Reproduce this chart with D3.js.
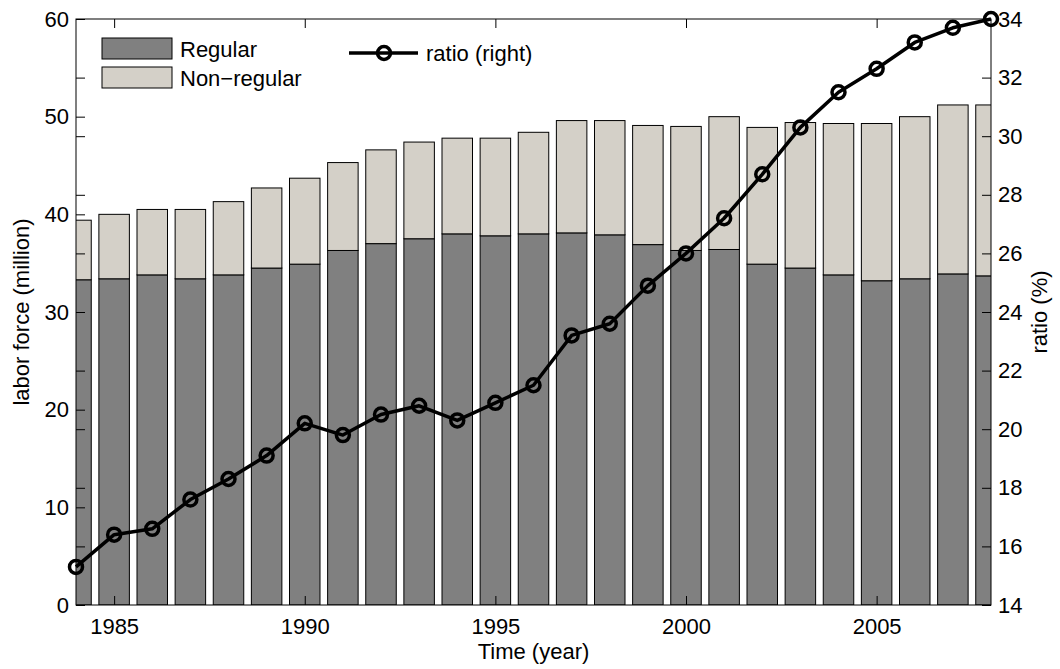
<!DOCTYPE html>
<html>
<head>
<meta charset="utf-8">
<script src="https://cdn.jsdelivr.net/npm/d3@7"></script>
<style>
  body { margin: 0; background: #fff; }
  svg { font-family: "Liberation Sans", Arial, Helvetica, sans-serif; }
</style>
</head>
<body>
<div id="chart"></div>
<script>
/* DATA */
const years = [1984, 1985, 1986, 1987, 1988, 1989, 1990, 1991, 1992, 1993, 1994, 1995,
  1996, 1997, 1998, 1999, 2000, 2001, 2002, 2003, 2004, 2005, 2006, 2007, 2008];
// labor force, million
const regular = [33.3, 33.4, 33.8, 33.4, 33.8, 34.5, 34.9, 36.3, 37.0, 37.5, 38.0, 37.8,
  38.0, 38.1, 37.9, 36.9, 36.3, 36.4, 34.9, 34.5, 33.8, 33.2, 33.4, 33.9, 33.7];
const nonRegular = [6.1, 6.6, 6.7, 7.1, 7.5, 8.2, 8.8, 9.0, 9.6, 9.9, 9.8, 10.0,
  10.4, 11.5, 11.7, 12.2, 12.7, 13.6, 14.0, 14.9, 15.5, 16.1, 16.6, 17.3, 17.5];
// non-regular ratio, %
const ratio = [15.3, 16.4, 16.6, 17.6, 18.3, 19.1, 20.2, 19.8, 20.5, 20.8, 20.3, 20.9,
  21.5, 23.2, 23.6, 24.9, 26.0, 27.2, 28.7, 30.3, 31.5, 32.3, 33.2, 33.7, 34.0];
const xTicks = [1985, 1990, 1995, 2000, 2005];
const leftTicks = [0, 10, 20, 30, 40, 50, 60];
const rightTicks = [14, 16, 18, 20, 22, 24, 26, 28, 30, 32, 34];

/* CONSTANTS */
const width = 1060,
  height = 669,
  margin = { top: 19, right: 69, bottom: 64, left: 76 },
  fontSize = 22,
  darkGray = "#808080",
  lightGray = "#d4d0c8";

const rows = years.map((y, i) => ({ year: y, regular: regular[i], nonRegular: nonRegular[i], ratio: ratio[i] }));

/* SCALES */
const xScale = d3.scaleLinear()
  .domain([1984, 2008])
  .range([margin.left, width - margin.right]);

const yLeft = d3.scaleLinear()
  .domain([0, 60])
  .range([height - margin.bottom, margin.top]);

const yRight = d3.scaleLinear()
  .domain([14, 34])
  .range([height - margin.bottom, margin.top]);

const barWidth = 0.8 * (xScale(1) - xScale(0));

const svg = d3.select("#chart")
  .append("svg")
  .attr("width", width)
  .attr("height", height);

svg.append("clipPath")
  .attr("id", "plot-clip")
  .append("rect")
  .attr("x", margin.left)
  .attr("y", margin.top)
  .attr("width", width - margin.left - margin.right)
  .attr("height", height - margin.top - margin.bottom);

/* BARS */
const stacked = d3.stack().keys(["regular", "nonRegular"])(rows);
const colors = { regular: darkGray, nonRegular: lightGray };

svg.append("g")
  .attr("clip-path", "url(#plot-clip)")
  .selectAll("g.layer")
  .data(stacked)
  .join("g")
  .attr("class", "layer")
  .attr("fill", d => colors[d.key])
  .selectAll("rect")
  .data(d => d)
  .join("rect")
  .attr("x", d => xScale(d.data.year) - barWidth / 2)
  .attr("width", barWidth)
  .attr("y", d => yLeft(d[1]))
  .attr("height", d => yLeft(d[0]) - yLeft(d[1]))
  .attr("stroke", "#000")
  .attr("stroke-width", 1);

/* RATIO LINE */
const lineFunc = d3.line()
  .x(d => xScale(d.year))
  .y(d => yRight(d.ratio));

svg.append("path")
  .datum(rows)
  .attr("fill", "none")
  .attr("stroke", "#000")
  .attr("stroke-width", 3.5)
  .attr("stroke-linejoin", "round")
  .attr("d", lineFunc);

svg.selectAll("circle.dot")
  .data(rows)
  .join("circle")
  .attr("class", "dot")
  .attr("cx", d => xScale(d.year))
  .attr("cy", d => yRight(d.ratio))
  .attr("r", 6.5)
  .attr("fill", "none")
  .attr("stroke", "#000")
  .attr("stroke-width", 3.5);

/* AXES */
function styleAxis(g) {
  g.select(".domain").remove();
  g.attr("font-size", fontSize)
    .attr("font-family", null)
    .attr("color", "#000");
}

svg.append("g")
  .attr("transform", `translate(${margin.left},0)`)
  .call(d3.axisLeft(yLeft).tickValues(leftTicks).tickSizeInner(-9).tickSizeOuter(0).tickPadding(7))
  .call(styleAxis);

// right-axis ticks mirrored on the left edge
svg.append("g")
  .attr("transform", `translate(${margin.left},0)`)
  .call(d3.axisRight(yRight).tickValues(rightTicks).tickSize(9).tickFormat(""))
  .call(styleAxis);

svg.append("g")
  .attr("transform", `translate(${width - margin.right},0)`)
  .call(d3.axisRight(yRight).tickValues(rightTicks).tickSizeInner(-9).tickSizeOuter(0).tickPadding(7))
  .call(styleAxis);

svg.append("g")
  .attr("transform", `translate(0,${height - margin.bottom})`)
  .call(d3.axisBottom(xScale).tickValues(xTicks).tickFormat(d3.format("d"))
    .tickSizeInner(-9).tickSizeOuter(0).tickPadding(13))
  .call(styleAxis);

svg.append("g")
  .attr("transform", `translate(0,${margin.top})`)
  .call(d3.axisTop(xScale).tickValues(xTicks).tickFormat("").tickSizeInner(-9).tickSizeOuter(0))
  .call(styleAxis);

// frame
svg.append("rect")
  .attr("x", margin.left)
  .attr("y", margin.top)
  .attr("width", width - margin.left - margin.right)
  .attr("height", height - margin.top - margin.bottom)
  .attr("fill", "none")
  .attr("stroke", "#000")
  .attr("stroke-width", 1);

/* AXIS LABELS */
svg.append("text")
  .attr("x", (margin.left + width - margin.right) / 2)
  .attr("y", 659)
  .attr("text-anchor", "middle")
  .attr("font-size", fontSize)
  .text("Time (year)");

svg.append("text")
  .attr("transform", `translate(29,${(margin.top + height - margin.bottom) / 2}) rotate(-90)`)
  .attr("text-anchor", "middle")
  .attr("font-size", fontSize)
  .text("labor force (million)");

svg.append("text")
  .attr("transform", `translate(1047,${(margin.top + height - margin.bottom) / 2}) rotate(-90)`)
  .attr("text-anchor", "middle")
  .attr("font-size", fontSize)
  .text("ratio (%)");

/* LEGEND */
const legendItems = [
  { label: "Regular", color: darkGray, y: 38 },
  { label: "Non\u2212regular", color: lightGray, y: 67 }
];

const legend = svg.append("g");
legend.selectAll("rect")
  .data(legendItems)
  .join("rect")
  .attr("x", 102)
  .attr("y", d => d.y)
  .attr("width", 70)
  .attr("height", 21)
  .attr("fill", d => d.color)
  .attr("stroke", "#000");

legend.selectAll("text")
  .data(legendItems)
  .join("text")
  .attr("x", 180)
  .attr("y", d => d.y + 11)
  .attr("dy", "0.35em")
  .attr("font-size", fontSize)
  .text(d => d.label);

const ratioLegend = svg.append("g").attr("transform", "translate(349,53)");
ratioLegend.append("line")
  .attr("x1", 0).attr("x2", 69)
  .attr("stroke", "#000")
  .attr("stroke-width", 3.5);
ratioLegend.append("circle")
  .attr("cx", 35)
  .attr("r", 6.5)
  .attr("fill", "none")
  .attr("stroke", "#000")
  .attr("stroke-width", 3.5);
ratioLegend.append("text")
  .attr("x", 77)
  .attr("dy", "0.35em")
  .attr("font-size", fontSize)
  .text("ratio (right)");
</script>
</body>
</html>
